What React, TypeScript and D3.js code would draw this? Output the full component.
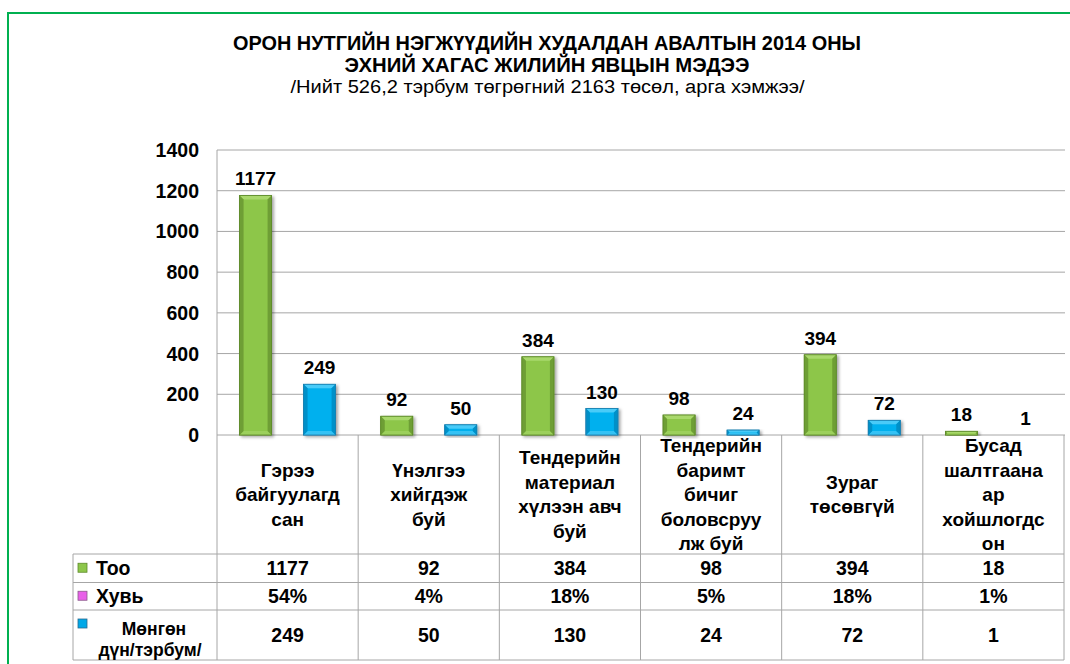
import React from "react";
import * as d3 from "d3";

const titleLines = [
  "ОРОН НУТГИЙН НЭГЖҮҮДИЙН ХУДАЛДАН АВАЛТЫН 2014 ОНЫ",
  "ЭХНИЙ ХАГАС ЖИЛИЙН ЯВЦЫН МЭДЭЭ",
];
const subtitle = "/Нийт 526,2 тэрбум төгрөгний 2163 төсөл, арга хэмжээ/";

const categoryLines = [
  ["Гэрээ", "байгуулагд", "сан"],
  ["Үнэлгээ", "хийгдэж", "буй"],
  ["Тендерийн", "материал", "хүлээн авч", "буй"],
  ["Тендерийн", "баримт", "бичиг", "боловсруу", "лж буй"],
  ["Зураг", "төсөвгүй"],
  ["Бусад", "шалтгаана", "ар", "хойшлогдс", "он"],
];
const categories = categoryLines.map((l) => l.join(" "));

const tooValues = [1177, 92, 384, 98, 394, 18];
const khuviValues = [54, 4, 18, 5, 18, 1]; // percent
const mongonValues = [249, 50, 130, 24, 72, 1];

const seriesNames = ["Тоо", "Хувь", "Мөнгөн дүн/тэрбум/"];
const mongonLegendLines = ["Мөнгөн", "дүн/тэрбум/"];
const tickValues = [0, 200, 400, 600, 800, 1000, 1200, 1400];

const FONT = "'Liberation Sans', Arial, Helvetica, sans-serif";

type Palette = { base: string; side: string; top: string; bottom: string; border: string; key: string; keyBorder: string };
const palettes: Palette[] = [
  { base: "#8DC64A", side: "#6E9E34", top: "#A9D86C", bottom: "#9CD05C", border: "#5E8A2A", key: "#8DC64A", keyBorder: "#5E8A2A" },
  { base: "#E45CE4", side: "#B83CB8", top: "#F080F0", bottom: "#EA70EA", border: "#8B4A8B", key: "#E860E8", keyBorder: "#8B5A8B" },
  { base: "#00B0EE", side: "#0090C8", top: "#48CBF8", bottom: "#34C2F4", border: "#1A7FAF", key: "#00A8E8", keyBorder: "#2A6A90" },
];

export default function App() {
  const W = 1070;
  const H = 664;
  const plotLeft = 217;
  const plotRight = 1064;
  const plotTop = 150;
  const plotBottom = 435;
  const tableLeft = 73;
  const rowTops = [554, 582.5, 610, 660];

  const y = d3.scaleLinear().domain([0, 1400]).range([plotBottom, plotTop]);
  const x = d3.scaleBand<string>().domain(categories).range([plotLeft, plotRight]).paddingInner(0).paddingOuter(0);
  const step = x.bandwidth();
  const sub = d3
    .scaleBand<string>()
    .domain(seriesNames)
    .range([0, step])
    .paddingInner(0)
    .paddingOuter((step / 32 - 3) / 2);

  const seriesValues = [tooValues, khuviValues.map((v) => v / 100), mongonValues];
  const labelled = [true, false, true];

  const gray = "#A6A6A6";

  const bars: React.ReactNode[] = [];
  categories.forEach((c, i) => {
    seriesNames.forEach((s, k) => {
      const v = seriesValues[k][i];
      const x0 = (x(c) as number) + (sub(s) as number);
      const w = sub.bandwidth();
      const x1 = x0 + w;
      const y0 = y(v);
      const y1 = y(0);
      const h = y1 - y0;
      const p = palettes[k];
      const b = Math.min(4, h / 2, w / 2);
      const pts = (arr: number[][]) => arr.map((q) => q.join(",")).join(" ");
      bars.push(
        <g key={`b-${i}-${k}`}>
          {h > 0.5 && (
            <g filter="url(#shadow)">
              <rect x={x0} y={y0} width={w} height={h} fill={p.base} stroke={p.border} strokeWidth={0.8} />
              <polygon points={pts([[x0, y0], [x1, y0], [x1 - b, y0 + b], [x0 + b, y0 + b]])} fill={p.top} />
              <polygon points={pts([[x0, y1], [x1, y1], [x1 - b, y1 - b], [x0 + b, y1 - b]])} fill={p.bottom} />
              <polygon points={pts([[x0, y0], [x0 + b, y0 + b], [x0 + b, y1 - b], [x0, y1]])} fill={p.side} />
              <polygon points={pts([[x1, y0], [x1 - b, y0 + b], [x1 - b, y1 - b], [x1, y1]])} fill={p.side} />
              <rect x={x0} y={y0} width={w} height={h} fill="none" stroke={p.border} strokeWidth={0.8} />
            </g>
          )}
          {labelled[k] && (
            <text
              x={x0 + w / 2}
              y={y0 - 10}
              textAnchor="middle"
              fontFamily={FONT}
              fontWeight="bold"
              fontSize={19}
              fill="#000"
            >
              {v}
            </text>
          )}
        </g>
      );
    });
  });

  const lineH = 24.5;
  const catCenterY = (plotBottom + rowTops[0]) / 2 + 6.5;

  const rowCenters = [0, 1, 2].map((r) => (rowTops[r] + rowTops[r + 1]) / 2);
  const tableValues = [
    tooValues.map((v) => String(v)),
    khuviValues.map((v) => `${v}%`),
    mongonValues.map((v) => String(v)),
  ];

  return (
    <svg
      width={W}
      height={H}
      viewBox={`0 0 ${W} ${H}`}
      style={{ position: "fixed", left: 0, top: 0, background: "#fff" }}
    >
      <defs>
        <filter id="shadow" x="-30%" y="-10%" width="160%" height="130%">
          <feDropShadow dx={2} dy={1.5} stdDeviation={1.6} floodColor="#000" floodOpacity={0.35} />
        </filter>
      </defs>
      <rect x={0} y={0} width={W} height={H} fill="#fff" />
      {/* green frame */}
      <path d={`M8,${H} V13 H${W}`} fill="none" stroke="#00B050" strokeWidth={2} />

      {/* title */}
      <text x={547} y={50} textAnchor="middle" fontFamily={FONT} fontWeight="bold" fontSize={19.5} textLength={628} lengthAdjust="spacingAndGlyphs">
        {titleLines[0]}
      </text>
      <text x={547} y={71.5} textAnchor="middle" fontFamily={FONT} fontWeight="bold" fontSize={19.5} textLength={405} lengthAdjust="spacingAndGlyphs">
        {titleLines[1]}
      </text>
      <text x={547.5} y={93} textAnchor="middle" fontFamily={FONT} fontSize={18} textLength={514} lengthAdjust="spacingAndGlyphs">
        {subtitle}
      </text>

      {/* gridlines */}
      {y.ticks(7).map((t) => (
        <line key={`g${t}`} x1={plotLeft} x2={plotRight + 1} y1={y(t)} y2={y(t)} stroke={gray} strokeWidth={1} />
      ))}
      {/* y tick labels */}
      {tickValues.map((t) => (
        <text
          key={`t${t}`}
          x={199}
          y={y(t) + 7}
          textAnchor="end"
          fontFamily={FONT}
          fontWeight="bold"
          fontSize={19.5}
        >
          {t}
        </text>
      ))}

      {/* table lines */}
      <line x1={plotLeft} x2={plotLeft} y1={plotTop} y2={rowTops[3]} stroke={gray} />
      <line x1={tableLeft} x2={tableLeft} y1={rowTops[0]} y2={rowTops[3]} stroke={gray} />
      {categories.map((c, i) => (
        <line key={`v${i}`} x1={(x(c) as number) + step} x2={(x(c) as number) + step} y1={plotBottom} y2={rowTops[3]} stroke={gray} />
      ))}
      {rowTops.map((r, i) => (
        <line key={`h${i}`} x1={tableLeft} x2={plotRight} y1={r} y2={r} stroke={gray} />
      ))}

      {bars}

      {/* category labels */}
      {categoryLines.map((lines, i) => {
        const cx = (x(categories[i]) as number) + step / 2;
        const start = catCenterY - ((lines.length - 1) * lineH) / 2;
        return (
          <text key={`c${i}`} textAnchor="middle" fontFamily={FONT} fontWeight="bold" fontSize={19}>
            {lines.map((l, j) => (
              <tspan key={j} x={cx} y={start + j * lineH}>
                {l}
              </tspan>
            ))}
          </text>
        );
      })}

      {/* table values */}
      {tableValues.map((row, r) =>
        row.map((v, i) => (
          <text
            key={`tv${r}-${i}`}
            x={(x(categories[i]) as number) + step / 2}
            y={rowCenters[r] + 7}
            textAnchor="middle"
            fontFamily={FONT}
            fontWeight="bold"
            fontSize={19.5}
          >
            {v}
          </text>
        ))
      )}

      {/* legend column */}
      {[0, 1].map((r) => (
        <g key={`lg${r}`}>
          <rect x={78} y={rowCenters[r] - 5} width={9} height={9} fill={palettes[r].key} stroke={palettes[r].keyBorder} strokeWidth={0.8} />
          <text x={96} y={rowCenters[r] + 7} fontFamily={FONT} fontWeight="bold" fontSize={19.5}>
            {seriesNames[r]}
          </text>
        </g>
      ))}
      <rect x={78} y={619} width={9} height={9} fill={palettes[2].key} stroke={palettes[2].keyBorder} strokeWidth={0.8} />
      <text fontFamily={FONT} fontWeight="bold" fontSize={17.5} textAnchor="middle">
        <tspan x={154} y={634.5}>{mongonLegendLines[0]}</tspan>
        <tspan x={150} y={655.5}>{mongonLegendLines[1]}</tspan>
      </text>
    </svg>
  );
}
